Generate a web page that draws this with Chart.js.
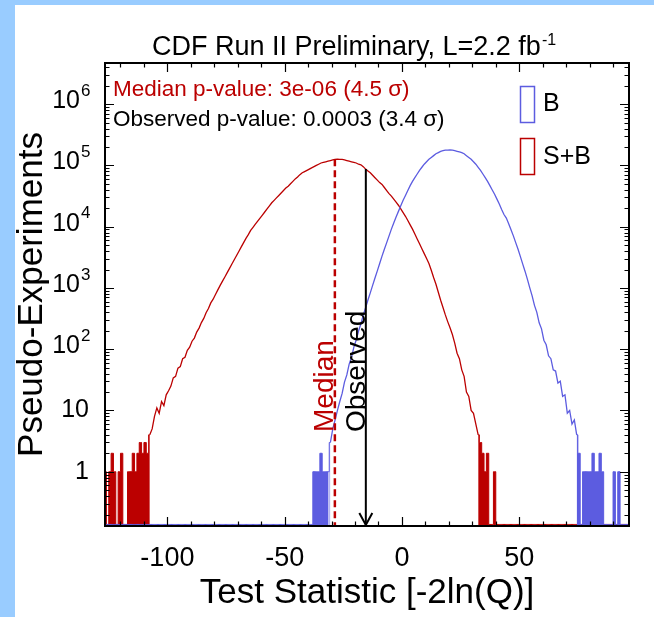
<!DOCTYPE html>
<html>
<head>
<meta charset="utf-8">
<script src="https://cdn.jsdelivr.net/npm/chart.js@4.4.1/dist/chart.umd.min.js"></script>
<style>
  html, body { margin: 0; padding: 0; }
  body { width: 654px; height: 617px; background: #99ccff; position: relative; overflow: hidden; }
  #panel { position: absolute; left: 15px; top: 5px; right: 0; bottom: 0; background: #fff; }
  #wrap { position: absolute; left: 0; top: 0; width: 654px; height: 617px; }
</style>
</head>
<body>
<div id="panel"></div>
<div id="wrap"><canvas id="chart" width="654" height="617"></canvas></div>
<script>
// Histogram binning: unit-width bins, first bin starts at -127
const BIN_START = -127;
const BIN_WIDTH = 1;

// S+B pseudo-experiments per bin, bins -127 .. 96
const sbCounts = [
  1, 0, 1, 2, 1, 0, 1, 2, 0, 0,                                        // -127
  1, 1, 2, 1, 2, 3, 2, 3, 2, 4,                                        // -117
  5, 8, 11, 9, 14, 12, 18, 21, 25, 34,                                 // -107
  36, 49, 52, 70, 74, 96, 108, 135, 152, 190,                          // -97
  221, 272, 318, 395, 462, 570, 655, 781, 930, 1100,                   // -87
  1290, 1510, 1780, 2090, 2460, 2880, 3390, 3980, 4680, 5500,          // -77
  6460, 7410, 8710, 9770, 10970, 12300, 13800, 15490, 17380, 19500,    // -67
  21880, 24550, 26920, 29510, 32360, 35480, 38900, 42660, 45710, 50120, // -57
  54950, 60260, 64570, 70800, 75860, 79430, 83180, 87100, 91200, 95500, // -47
  100000, 104700, 109600, 112200, 114800, 117500, 120200, 123000, 125900, 126500, // -37
  125900, 125100, 123000, 120200, 117500, 114800, 112200, 109600, 104700, 102300, // -27
  95500, 87100, 81280, 75860, 69180, 63100, 57540, 52480, 48980, 43650, // -17
  38900, 34670, 31620, 28180, 25120, 22390, 19500, 16980, 14790, 12590, // -7
  10720, 9120, 7590, 6310, 5250, 4370, 3630, 3020, 2510, 1950,         // 3
  1480, 1150, 851, 631, 479, 363, 282, 224, 174, 126,                  // 13
  86, 70, 46, 36, 20, 17, 10, 9, 6, 4,                                 // 23
  3, 2, 1, 2, 0, 0, 1, 0, 0, 0,                                        // 33
  0, 0, 0, 0, 0, 0, 0, 0, 0, 0,                                        // 43
  0, 0, 0, 0, 0, 0, 0, 0, 0, 0,                                        // 53
  0, 0, 0, 0, 0, 0, 0, 0, 0, 0,                                        // 63
  0, 0, 0, 0, 0, 0, 0, 0, 0, 0,                                        // 73
  0, 0, 0, 0, 0, 0, 0, 0, 0, 0,                                        // 83
  0, 0, 0, 0                                                           // 93
];

// B-only pseudo-experiments per bin, bins -127 .. 96
const bCounts = [
  0, 0, 0, 0, 0, 0, 0, 0, 0, 0,                                        // -127
  0, 0, 0, 0, 0, 0, 0, 0, 0, 0,                                        // -117
  0, 0, 0, 0, 0, 0, 0, 0, 0, 0,                                        // -107
  0, 0, 0, 0, 0, 0, 0, 0, 0, 0,                                        // -97
  0, 0, 0, 0, 0, 0, 0, 0, 0, 0,                                        // -87
  0, 0, 0, 0, 0, 0, 0, 0, 0, 0,                                        // -77
  0, 0, 0, 0, 0, 0, 0, 0, 0, 0,                                        // -67
  0, 0, 0, 0, 0, 0, 0, 0, 0, 0,                                        // -57
  0, 0, 0, 0, 0, 0, 0, 0, 0, 1,                                        // -47
  1, 1, 2, 1, 1, 1, 3, 5, 7, 10,                                       // -37
  14, 19, 29, 38, 57, 74, 108, 141, 198, 260,                          // -27
  358, 476, 635, 830, 1100, 1450, 1900, 2510, 3310, 4270,              // -17
  5500, 7080, 9120, 11480, 14450, 17780, 21880, 26920, 32360, 38900,   // -7
  46770, 54950, 63100, 72440, 83180, 93330, 104700, 114800, 125900, 134900, // 3
  144500, 154900, 162200, 169800, 173800, 177800, 178000, 178500, 178000, 173800, // 13
  169800, 166000, 162000, 155000, 144500, 134900, 125900, 114800, 104700, 93300, // 23
  83200, 72400, 63100, 55000, 46800, 39800, 33900, 28200, 23400, 19100, // 33
  15800, 13800, 11200, 8910, 7080, 5500, 4270, 3240, 2450, 1860,       // 43
  1380, 1000, 741, 520, 400, 270, 215, 140, 118, 78,                   // 53
  70, 46, 44, 28, 30, 17, 18, 9, 10, 6,                                // 63
  7, 4, 2, 0, 1, 1, 1, 1, 2, 1,                                        // 73
  1, 2, 1, 0, 0, 0, 0, 1, 0, 1,                                        // 83
  0, 0, 0, 0                                                           // 93
];

// Axis ranges and ticks
const X_MIN = -126.6;
const X_MAX = 96.8;
const Y_MIN = 0.13;
const Y_MAX = 4.7e6;
const X_LABEL_TICKS = [-100, -50, 0, 50];
const Y_DECADES = [0, 1, 2, 3, 4, 5, 6];

// Median of S+B and the observed value of the test statistic
const MEDIAN_X = -28.6;
const OBSERVED_X = -15.4;
// B tail below the median that is shaded as the p-value region
const SHADE_FROM = -32.4;

const RED = "#bb0000";
const BLUE = "#5c5ce0";
const BLUE_SHADE = "rgba(92, 92, 224, 0.45)";
const NONE = "rgba(0,0,0,0)";
const FONT = "'Liberation Sans', Arial, Helvetica, sans-serif";

// empty bins are drawn just above the lower edge of the frame
const ZERO_LEVEL = Y_MIN * 1.06;
// sparse bins (a few entries) are drawn as solid bars down to the axis
const SPARSE = 4;

const binOf = (x) => Math.floor((x - BIN_START) / BIN_WIDTH);

function histPoints(counts) {
  return counts.map((c, i) => ({
    x: BIN_START + (i + 0.5) * BIN_WIDTH,
    y: c > 0 ? c : ZERO_LEVEL,
  }));
}

const isSparse = (ctx) => ctx.p0.parsed.y <= SPARSE && ctx.p1.parsed.y <= SPARSE;

// outline of the well populated part of a histogram
function bodyDataset(label, counts, color, order) {
  return {
    label,
    data: histPoints(counts),
    borderColor: color,
    borderWidth: 1.3,
    fill: false,
    segment: { borderColor: (ctx) => (isSparse(ctx) ? NONE : color) },
    pointRadius: 0,
    order,
  };
}

// sparse tails: bin-wide bars filled down to the axis
function tailDataset(label, counts, color, shade, order) {
  return {
    label,
    data: histPoints(counts),
    borderColor: color,
    backgroundColor: NONE,
    borderWidth: 1,
    stepped: "middle",
    fill: "start",
    segment: {
      borderColor: (ctx) => (isSparse(ctx) ? color : NONE),
      backgroundColor: (ctx) => {
        if (!isSparse(ctx)) return NONE;
        const a = ctx.p0.parsed, b = ctx.p1.parsed;
        if (shade && a.x >= SHADE_FROM && b.x <= MEDIAN_X + 0.5) return shade;
        return color;
      },
    },
    pointRadius: 0,
    order,
  };
}

const medianTop = sbCounts[binOf(MEDIAN_X)];
const observedTop = sbCounts[binOf(OBSERVED_X)];

function setFont(ctx, size) {
  ctx.font = `${size}px ${FONT}`;
}

// frame, inward ticks on all four sides, and all the text inside the pad
const decorations = {
  id: "decorations",
  afterDraw(chart) {
    const { ctx, chartArea: a, scales } = chart;
    const xs = scales.x, ys = scales.y;
    ctx.save();

    // arrow head at the foot of the observed line
    const ox = xs.getPixelForValue(OBSERVED_X);
    ctx.strokeStyle = "#000";
    ctx.lineWidth = 2;
    ctx.beginPath();
    ctx.moveTo(ox - 6.5, a.bottom - 13);
    ctx.lineTo(ox, a.bottom - 1);
    ctx.lineTo(ox + 6.5, a.bottom - 13);
    ctx.stroke();

    // frame
    ctx.lineWidth = 2;
    ctx.strokeRect(a.left, a.top, a.right - a.left, a.bottom - a.top);

    // x ticks every 10, long ones every 50
    ctx.lineWidth = 1.2;
    ctx.beginPath();
    for (let v = -120; v <= 90; v += 10) {
      const px = Math.round(xs.getPixelForValue(v)) + 0.5;
      const len = v % 50 === 0 ? 9 : 4.5;
      ctx.moveTo(px, a.bottom);
      ctx.lineTo(px, a.bottom - len);
      ctx.moveTo(px, a.top);
      ctx.lineTo(px, a.top + len);
    }
    // y ticks: decades and 2..9 subdivisions
    for (let d = -1; d <= 6; d++) {
      for (let m = 1; m <= 9; m++) {
        const v = m * Math.pow(10, d);
        if (v < Y_MIN || v > Y_MAX) continue;
        const py = Math.round(ys.getPixelForValue(v)) + 0.5;
        const len = m === 1 ? 9 : 4.5;
        ctx.moveTo(a.left, py);
        ctx.lineTo(a.left + len, py);
        ctx.moveTo(a.right, py);
        ctx.lineTo(a.right - len, py);
      }
    }
    ctx.stroke();

    // y tick labels with exponents
    ctx.fillStyle = "#000";
    ctx.textBaseline = "middle";
    for (const d of Y_DECADES) {
      const py = ys.getPixelForValue(Math.pow(10, d));
      setFont(ctx, 25);
      ctx.textAlign = "right";
      if (d <= 1) {
        ctx.fillText(d === 0 ? "1" : "10", 89, py);
      } else {
        ctx.fillText("10", 80, py - 3);
        setFont(ctx, 17);
        ctx.textAlign = "left";
        ctx.fillText(String(d), 81, py - 13);
      }
    }

    // title with superscript
    ctx.textBaseline = "alphabetic";
    ctx.textAlign = "left";
    setFont(ctx, 27);
    const title = "CDF Run II Preliminary, L=2.2 fb";
    ctx.fillText(title, 152, 55);
    const tw = ctx.measureText(title).width;
    setFont(ctx, 16);
    ctx.fillText("-1", 152 + tw + 1, 45);

    // p-value lines
    setFont(ctx, 22.5);
    ctx.fillStyle = RED;
    ctx.fillText("Median p-value: 3e-06 (4.5 \u03c3)", 113, 96);
    ctx.fillStyle = "#000";
    ctx.fillText("Observed p-value: 0.0003 (3.4 \u03c3)", 113, 126);

    // legend
    ctx.lineWidth = 1.5;
    ctx.strokeStyle = BLUE;
    ctx.strokeRect(520.5, 86.5, 14, 36);
    ctx.strokeStyle = RED;
    ctx.strokeRect(520.5, 138.5, 14, 36);
    setFont(ctx, 25);
    ctx.fillStyle = "#000";
    ctx.fillText("B", 543, 111);
    ctx.fillText("S+B", 543, 164);

    // vertical labels beside the median and observed lines
    setFont(ctx, 28);
    const mx = xs.getPixelForValue(MEDIAN_X);
    ctx.save();
    ctx.translate(mx - 2, 432);
    ctx.rotate(-Math.PI / 2);
    ctx.fillStyle = RED;
    ctx.fillText("Median", 0, 0);
    ctx.restore();
    ctx.save();
    ctx.translate(ox - 1, 432);
    ctx.rotate(-Math.PI / 2);
    ctx.fillStyle = "#000";
    ctx.fillText("Observed", 0, 0);
    ctx.restore();

    ctx.restore();
  },
};

Chart.defaults.font.family = FONT;
Chart.defaults.color = "#000";

new Chart(document.getElementById("chart"), {
  type: "line",
  data: {
    datasets: [
      {
        label: "Observed",
        data: [{ x: OBSERVED_X, y: observedTop }, { x: OBSERVED_X, y: Y_MIN }],
        borderColor: "#000",
        borderWidth: 2,
        pointRadius: 0,
        order: 0,
      },
      {
        label: "Median",
        data: [{ x: MEDIAN_X, y: medianTop }, { x: MEDIAN_X, y: Y_MIN }],
        borderColor: RED,
        borderWidth: 2.5,
        borderDash: [7, 4],
        pointRadius: 0,
        order: 1,
      },
      bodyDataset("B", bCounts, BLUE, 2),
      tailDataset("B tail", bCounts, BLUE, BLUE_SHADE, 3),
      bodyDataset("S+B", sbCounts, RED, 4),
      tailDataset("S+B tail", sbCounts, RED, null, 5),
    ],
  },
  options: {
    responsive: false,
    animation: false,
    devicePixelRatio: 1,
    layout: { padding: { top: 63, right: 25, left: 0, bottom: 0 } },
    plugins: { legend: { display: false }, tooltip: { enabled: false } },
    scales: {
      x: {
        type: "linear",
        min: X_MIN,
        max: X_MAX,
        afterBuildTicks: (s) => { s.ticks = X_LABEL_TICKS.map((v) => ({ value: v })); },
        afterFit: (s) => { s.height = 91; },
        grid: { display: false, drawTicks: false },
        border: { display: false },
        ticks: { font: { size: 27 }, color: "#000", padding: 16, maxRotation: 0, autoSkip: false },
        title: {
          display: true,
          text: "Test Statistic [-2ln(Q)]",
          font: { size: 35 },
          color: "#000",
          padding: { top: 0, bottom: 3 },
        },
      },
      y: {
        type: "logarithmic",
        min: Y_MIN,
        max: Y_MAX,
        afterFit: (s) => { s.width = 105; },
        grid: { display: false, drawTicks: false },
        border: { display: false },
        ticks: { display: false },
        title: {
          display: true,
          text: "Pseudo-Experiments",
          font: { size: 35 },
          color: "#000",
          padding: { top: 11, bottom: 0 },
        },
      },
    },
  },
  plugins: [decorations],
});
</script>
</body>
</html>
